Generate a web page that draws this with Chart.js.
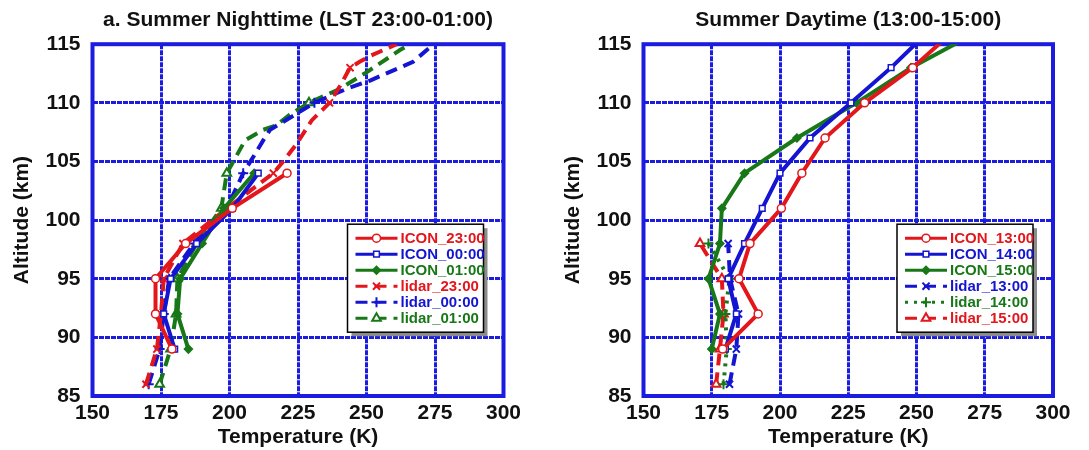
<!DOCTYPE html>
<html>
<head>
<meta charset="utf-8">
<script src="https://cdn.jsdelivr.net/npm/chart.js@4.4.1/dist/chart.umd.min.js"></script>
<style>
html, body { margin: 0; padding: 0; background: #fff; }
#wrap { position: relative; width: 1089px; height: 450px; }
#c1 { position: absolute; left: 0; top: 0; }
#c2 { position: absolute; left: 545px; top: 0; }
</style>
</head>
<body>
<div id="wrap">
  <canvas id="c1" width="545" height="450"></canvas>
  <canvas id="c2" width="544" height="450"></canvas>
</div>
<script>
// axis ticks
const tempTicks = [150, 175, 200, 225, 250, 275, 300];
const altTicks = [85, 90, 95, 100, 105, 110, 115];
const markerAlts = [86, 89, 92, 95, 98, 101, 104, 107, 110, 113];

// panel a: nighttime, ICON model (altitude km / temperature K)
const iconAltNight = [89, 92, 95, 98, 101, 104];
const icon2300 = [179, 173, 173, 184, 201, 221];
const icon0000 = [180, 176, 178.5, 188, 201, 210.5];
const icon0100 = [185, 181, 182, 190, 198, 209];

// panel a: nighttime, lidar
const lidarAlt2300 = [86, 89, 92, 95, 98, 101, 104, 105, 106.5, 108.5, 110, 111.5, 113, 113.5, 114, 115];
const lidar2300 = [169.5, 173.5, 175, 176, 183, 199, 216, 219.6, 224.5, 230, 236.5, 240.5, 244, 247.5, 251.3, 261];
const lidarAlt0000 = [86, 89, 92, 95, 98, 101, 104, 105.4, 106.8, 107.7, 110, 111.2, 111.9, 113.5, 115];
const lidar0000 = [170.5, 174.5, 176, 178, 187, 199, 205, 208.7, 212.3, 214.8, 231, 242.8, 251.3, 267, 274.5];
const lidarAlt0100 = [86, 89, 92, 95, 98, 101, 104, 105, 106.8, 107.7, 108.1, 109, 110, 111.2, 112.6, 114.5, 115];
const lidar0100 = [174.5, 178.5, 180.5, 181, 188, 197, 199, 201.4, 205.7, 212.3, 217.2, 222, 229, 240.3, 250, 262.2, 266];

// panel b: daytime, ICON model
const iconAltDay = [89, 92, 95, 98, 101, 104, 107, 110, 113, 116];
const icon1300 = [179, 192, 185, 189, 200.5, 208, 216.5, 231, 248.6, 263];
const icon1400 = [180, 184, 181, 187, 193.5, 200, 211, 226, 240.7, 254];
const icon1500 = [175, 178, 173.8, 178, 178.7, 187, 206.2, 228, 248, 272];

// panel b: daytime, lidar
const lidarAltDay = [86, 89, 92, 95, 98];
const lidar1300 = [181.5, 184, 184.8, 181.7, 181];
const lidar1400 = [179.3, 180.5, 180, 181.5, 173.8];
const lidar1500 = [176.6, 178, 179.3, 178.7, 170.7];

const RED = '#e3161c';
const BLUE = '#1414d2';
const GREEN = '#187818';
const GRID = '#1c1ce0';
const FONT = '"Liberation Sans", Arial, sans-serif';

const pts = (alts, temps) => alts.map((a, i) => ({ x: temps[i], y: a }));
const markerOnly = (size) => (c) => (c.raw && markerAlts.includes(c.raw.y) ? size : 0);

function icon(label, alts, temps, color, style, fill) {
    return {
        label: label,
        data: pts(alts, temps),
        showLine: true,
        borderColor: color,
        borderWidth: 4,
        pointStyle: style,
        pointRadius: 4,
        mk: 4,
        pointBorderWidth: 1.5,
        pointBorderColor: color,
        pointBackgroundColor: fill,
    };
}

function lidar(label, alts, temps, color, style, dash) {
    return {
        label: label,
        data: pts(alts, temps),
        showLine: true,
        borderColor: color,
        borderWidth: 4,
        borderDash: dash,
        pointStyle: style,
        pointRadius: markerOnly(5),
        mk: 5,
        pointBorderWidth: 2,
        pointBorderColor: color,
        pointBackgroundColor: '#fff',
    };
}

// frame round the plot area
const frame = {
    id: 'frame',
    beforeDatasetsDraw(chart) {
        const { ctx, chartArea: a } = chart;
        ctx.save();
        ctx.strokeStyle = GRID;
        ctx.lineWidth = 4;
        ctx.strokeRect(a.left, a.top, a.right - a.left, a.bottom - a.top);
        ctx.restore();
    }
};

// legend box inside the plot, with shadow
const boxLegend = {
    id: 'boxLegend',
    afterDraw(chart) {
        const { ctx, chartArea: a } = chart;
        const w = 136, h = 108;
        const x0 = a.right - 20 - w, y0 = a.top + 180;
        ctx.save();
        ctx.fillStyle = '#8c8c8c';
        ctx.fillRect(x0 + 4, y0 + 4, w, h);
        ctx.fillStyle = '#fff';
        ctx.fillRect(x0, y0, w, h);
        ctx.strokeStyle = '#000';
        ctx.lineWidth = 1.5;
        ctx.strokeRect(x0, y0, w, h);
        chart.data.datasets.forEach((ds, i) => {
            const y = y0 + 14 + i * 16;
            ctx.save();
            ctx.strokeStyle = ds.borderColor;
            ctx.lineWidth = 3;
            ctx.setLineDash(ds.borderDash || []);
            ctx.beginPath();
            ctx.moveTo(x0 + 8, y);
            ctx.lineTo(x0 + 50, y);
            ctx.stroke();
            ctx.restore();
            ctx.save();
            ctx.strokeStyle = ds.pointBorderColor;
            ctx.fillStyle = ds.pointBackgroundColor;
            ctx.lineWidth = ds.pointBorderWidth;
            Chart.helpers.drawPoint(ctx, { pointStyle: ds.pointStyle, radius: ds.mk, rotation: 0, borderWidth: ds.pointBorderWidth }, x0 + 29, y);
            ctx.restore();
            ctx.fillStyle = ds.borderColor;
            ctx.font = 'bold 15px ' + FONT;
            ctx.textBaseline = 'middle';
            ctx.textAlign = 'left';
            ctx.fillText(ds.label, x0 + 53, y + 1);
        });
        ctx.restore();
    }
};

function makeOptions(title, yWidth, yTitlePad, padRight) {
    return {
        responsive: false,
        animation: false,
        devicePixelRatio: 1,
        layout: { padding: { left: 0, right: padRight, top: 0, bottom: 0 } },
        plugins: {
            legend: { display: false },
            tooltip: { enabled: false },
            title: {
                display: true,
                text: title,
                fullSize: false,
                color: '#111',
                font: { family: FONT, size: 21, weight: 'bold', lineHeight: 1.2 },
                padding: { top: 8, bottom: 11 }
            }
        },
        scales: {
            x: {
                type: 'linear',
                min: 150,
                max: 300,
                afterBuildTicks: (s) => { s.ticks = tempTicks.map(v => ({ value: v })); },
                afterFit: (s) => { s.height = 54; },
                grid: { color: GRID, lineWidth: 3, drawTicks: false },
                border: { display: false, dash: [5, 1] },
                ticks: { color: '#111', padding: 5, font: { family: FONT, size: 21, weight: 'bold' } },
                title: {
                    display: true,
                    text: 'Temperature (K)',
                    color: '#111',
                    font: { family: FONT, size: 21, weight: 'bold', lineHeight: 1.2 },
                    padding: { top: 0, bottom: 0 }
                }
            },
            y: {
                type: 'linear',
                min: 85,
                max: 115,
                afterBuildTicks: (s) => { s.ticks = altTicks.map(v => ({ value: v })); },
                afterFit: (s) => { s.width = yWidth; },
                grid: { color: GRID, lineWidth: 3, drawTicks: false },
                border: { display: false, dash: [5, 1] },
                ticks: { color: '#111', padding: 12, font: { family: FONT, size: 21, weight: 'bold' } },
                title: {
                    display: true,
                    text: 'Altitude (km)',
                    color: '#111',
                    font: { family: FONT, size: 21, weight: 'bold', lineHeight: 1.2 },
                    padding: { top: yTitlePad, bottom: 0 }
                }
            }
        }
    };
}

const chart1 = new Chart(document.getElementById('c1'), {
    type: 'scatter',
    data: {
        datasets: [
            icon('ICON_23:00', iconAltNight, icon2300, RED, 'circle', '#fff'),
            icon('ICON_00:00', iconAltNight, icon0000, BLUE, 'rect', '#fff'),
            icon('ICON_01:00', iconAltNight, icon0100, GREEN, 'rectRot', GREEN),
            lidar('lidar_23:00', lidarAlt2300, lidar2300, RED, 'crossRot', [12, 7]),
            lidar('lidar_00:00', lidarAlt0000, lidar0000, BLUE, 'cross', [12, 7]),
            lidar('lidar_01:00', lidarAlt0100, lidar0100, GREEN, 'triangle', [12, 7]),
        ]
    },
    options: makeOptions('a. Summer Nighttime (LST 23:00-01:00)', 92.5, 10, 41.5),
    plugins: [frame, boxLegend]
});

const chart2 = new Chart(document.getElementById('c2'), {
    type: 'scatter',
    data: {
        datasets: [
            icon('ICON_13:00', iconAltDay, icon1300, RED, 'circle', '#fff'),
            icon('ICON_14:00', iconAltDay, icon1400, BLUE, 'rect', '#fff'),
            icon('ICON_15:00', iconAltDay, icon1500, GREEN, 'rectRot', GREEN),
            lidar('lidar_13:00', lidarAltDay, lidar1300, BLUE, 'crossRot', [12, 7]),
            lidar('lidar_14:00', lidarAltDay, lidar1400, GREEN, 'cross', [3, 6]),
            lidar('lidar_15:00', lidarAltDay, lidar1500, RED, 'triangle', [12, 7]),
        ]
    },
    options: makeOptions('Summer Daytime (13:00-15:00)', 98.5, 16, 36),
    plugins: [frame, boxLegend]
});
</script>
</body>
</html>
